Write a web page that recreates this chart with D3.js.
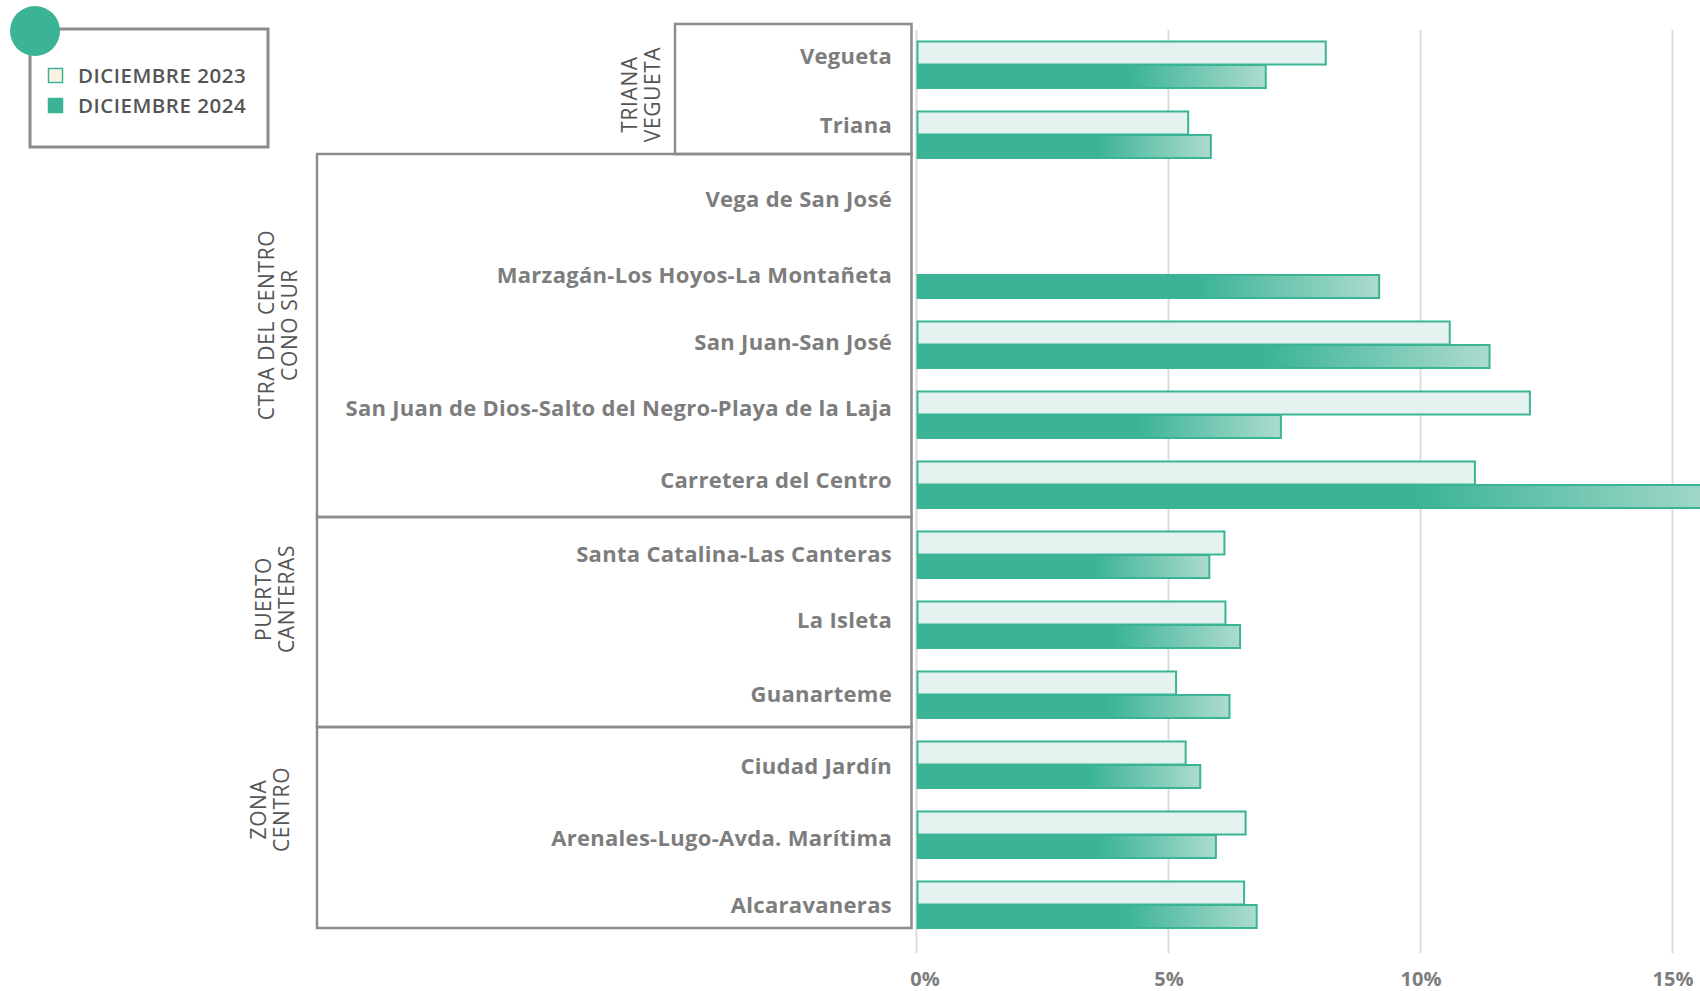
<!DOCTYPE html>
<html>
<head>
<meta charset="utf-8">
<script src="https://cdn.jsdelivr.net/npm/d3@7"></script>
<style>
  html, body { margin: 0; padding: 0; background: #ffffff; }
  svg { display: block; }
</style>
</head>
<body>
<svg id="chart" width="1700" height="991"></svg>
<script>
// ---------- DATA ----------
const categories = [
  "Vegueta",
  "Triana",
  "Vega de San José",
  "Marzagán-Los Hoyos-La Montañeta",
  "San Juan-San José",
  "San Juan de Dios-Salto del Negro-Playa de la Laja",
  "Carretera del Centro",
  "Santa Catalina-Las Canteras",
  "La Isleta",
  "Guanarteme",
  "Ciudad Jardín",
  "Arenales-Lugo-Avda. Marítima",
  "Alcaravaneras"
];
const seriesNames = ["DICIEMBRE 2023", "DICIEMBRE 2024"];
const values2023 = [8.12, 5.39, null, null, 10.58, 12.17, 11.08, 6.11, 6.13, 5.15, 5.34, 6.53, 6.50];
const values2024 = [6.93, 5.84, null, 9.18, 11.37, 7.23, 16.3, 5.81, 6.42, 6.21, 5.63, 5.94, 6.75];
const groupNames = [["TRIANA", "VEGUETA"], ["CTRA DEL CENTRO", "CONO SUR"], ["PUERTO", "CANTERAS"], ["ZONA", "CENTRO"]];
const groupFirst = ["Vegueta", "Vega de San José", "Santa Catalina-Las Canteras", "Ciudad Jardín"];
const groupLast  = ["Triana", "Carretera del Centro", "Guanarteme", "Alcaravaneras"];
const tickValues = [0, 5, 10, 15];
const tickLabels = ["0%", "5%", "10%", "15%"];

// ---------- STYLE / LAYOUT ----------
const TEAL = "#3bb496";
const LIGHT = "#e4f3ef";
const GRID = "#dcdcdc";
const BOX = "#8c8c8c";
const LABEL = "#7d7d7d";
const DARK = "#555555";
const FONT = "'Open Sans', 'Noto Sans', sans-serif";
const labelDy = [-6, -7, -3, 2.5, -0.5, -4, -2, 1.5, -2, 1.5, 3.5, 5.5, 2.5];

const svg = d3.select("#chart");
const x = d3.scaleLinear().domain([0, 15]).range([916.5, 1672.5]);
const y = d3.scaleBand().domain(categories).range([29.5, 939.5]).paddingInner(0.314).paddingOuter(0.157);
const ySub = d3.scaleBand().domain(seriesNames).range([0, y.bandwidth()]);

// gradient
const defs = svg.append("defs");
const grad = defs.append("linearGradient").attr("id", "g2024")
  .attr("x1", 0).attr("x2", 1).attr("y1", 0).attr("y2", 0);
grad.append("stop").attr("offset", 0).attr("stop-color", TEAL);
grad.append("stop").attr("offset", 0.61).attr("stop-color", TEAL);
grad.append("stop").attr("offset", 1).attr("stop-color", "#acdbcf");

// gridlines
svg.append("g").selectAll("line").data(tickValues).join("line")
  .attr("x1", d => x(d)).attr("x2", d => x(d))
  .attr("y1", 30).attr("y2", 953)
  .attr("stroke", GRID).attr("stroke-width", 2);

// axis labels (via d3 axis)
const axis = d3.axisBottom(x).tickValues(tickValues).tickFormat((d, i) => tickLabels[i]).tickSize(0).tickPadding(0);
const axG = svg.append("g").attr("transform", "translate(0,972)").call(axis);
axG.select(".domain").remove();
axG.selectAll("text")
  .attr("font-family", FONT).attr("font-weight", 700).attr("font-size", 20)
  .attr("fill", LABEL).attr("dy", "0.71em")
  .attr("dx", d => d === 0 ? 8 : 0);

// bars
const barsG = svg.append("g");
categories.forEach((c, i) => {
  const v3 = values2023[i], v4 = values2024[i];
  if (v3 != null) {
    barsG.append("rect")
      .attr("x", x(0) + 1).attr("y", y(c) + ySub(seriesNames[0]) + 1)
      .attr("width", x(v3) - x(0) - 1).attr("height", ySub.bandwidth() - 1)
      .attr("fill", LIGHT).attr("stroke", TEAL).attr("stroke-width", 2);
  }
  if (v4 != null) {
    barsG.append("rect")
      .attr("x", x(0) + 1).attr("y", y(c) + ySub(seriesNames[1]) + 0.5)
      .attr("width", x(v4) - x(0) - 1).attr("height", ySub.bandwidth() - 1)
      .attr("fill", "url(#g2024)").attr("stroke", TEAL).attr("stroke-width", 2);
  }
});

// category labels
svg.append("g").selectAll("text").data(categories).join("text")
  .attr("x", 892)
  .attr("y", (d, i) => y(d) + y.bandwidth() / 2 + labelDy[i])
  .attr("text-anchor", "end").attr("dominant-baseline", "middle")
  .attr("font-family", FONT).attr("font-weight", 700).attr("font-size", 22)
  .attr("letter-spacing", 0.3)
  .attr("fill", LABEL).text(d => d);

// group boxes
const boxRight = 911.5;
const boxTops = [
  y(groupFirst[0]) - 16.5,
  y(groupLast[0]) + y.bandwidth() - 4.5,
  y(groupLast[1]) + y.bandwidth() + 8.5,
  y(groupLast[2]) + y.bandwidth() + 8.5
];
const boxBottoms = [boxTops[1], boxTops[2], boxTops[3], y(groupLast[3]) + y.bandwidth() - 0.5];
const boxLefts = [675, 317, 317, 317];
const gb = svg.append("g").attr("fill", "none").attr("stroke", BOX).attr("stroke-width", 2.5);
groupNames.forEach((g, i) => {
  gb.append("rect")
    .attr("x", boxLefts[i]).attr("y", boxTops[i])
    .attr("width", boxRight - boxLefts[i]).attr("height", boxBottoms[i] - boxTops[i]);
});

// group labels (rotated)
const labelCenterX = [641, 278, 275, 270];
const labelCenterShift = [5.5, -10.5, -23, -18];
groupNames.forEach((g, i) => {
  const cy = (boxTops[i] + boxBottoms[i]) / 2 + labelCenterShift[i];
  const t = svg.append("text")
    .attr("transform", `translate(${labelCenterX[i]},${cy}) rotate(-90)`)
    .attr("text-anchor", "middle")
    .attr("font-family", FONT).attr("font-weight", 500).attr("font-size", 21)
    .attr("letter-spacing", 0.6)
    .attr("fill", DARK);
  g.forEach((line, j) => {
    t.append("tspan").attr("x", 0).attr("dy", j === 0 ? "-0.2em" : "1.1em").text(line);
  });
});

// legend
svg.append("rect").attr("x", 30).attr("y", 29).attr("width", 238).attr("height", 118)
  .attr("fill", "#fff").attr("stroke", BOX).attr("stroke-width", 3);
svg.append("circle").attr("cx", 35).attr("cy", 31).attr("r", 25).attr("fill", TEAL);
const legFills = ["#fdf1e4", TEAL];
seriesNames.forEach((s, i) => {
  svg.append("rect").attr("x", 48.5).attr("y", 68.5 + i * 30).attr("width", 14).attr("height", 14)
    .attr("fill", legFills[i]).attr("stroke", TEAL).attr("stroke-width", 1.5);
  svg.append("text").attr("x", 78).attr("y", 82.5 + i * 30)
    .attr("font-family", FONT).attr("font-weight", 600).attr("font-size", 20.5)
    .attr("letter-spacing", 0.5)
    .attr("fill", DARK).text(s);
});
</script>
</body>
</html>
